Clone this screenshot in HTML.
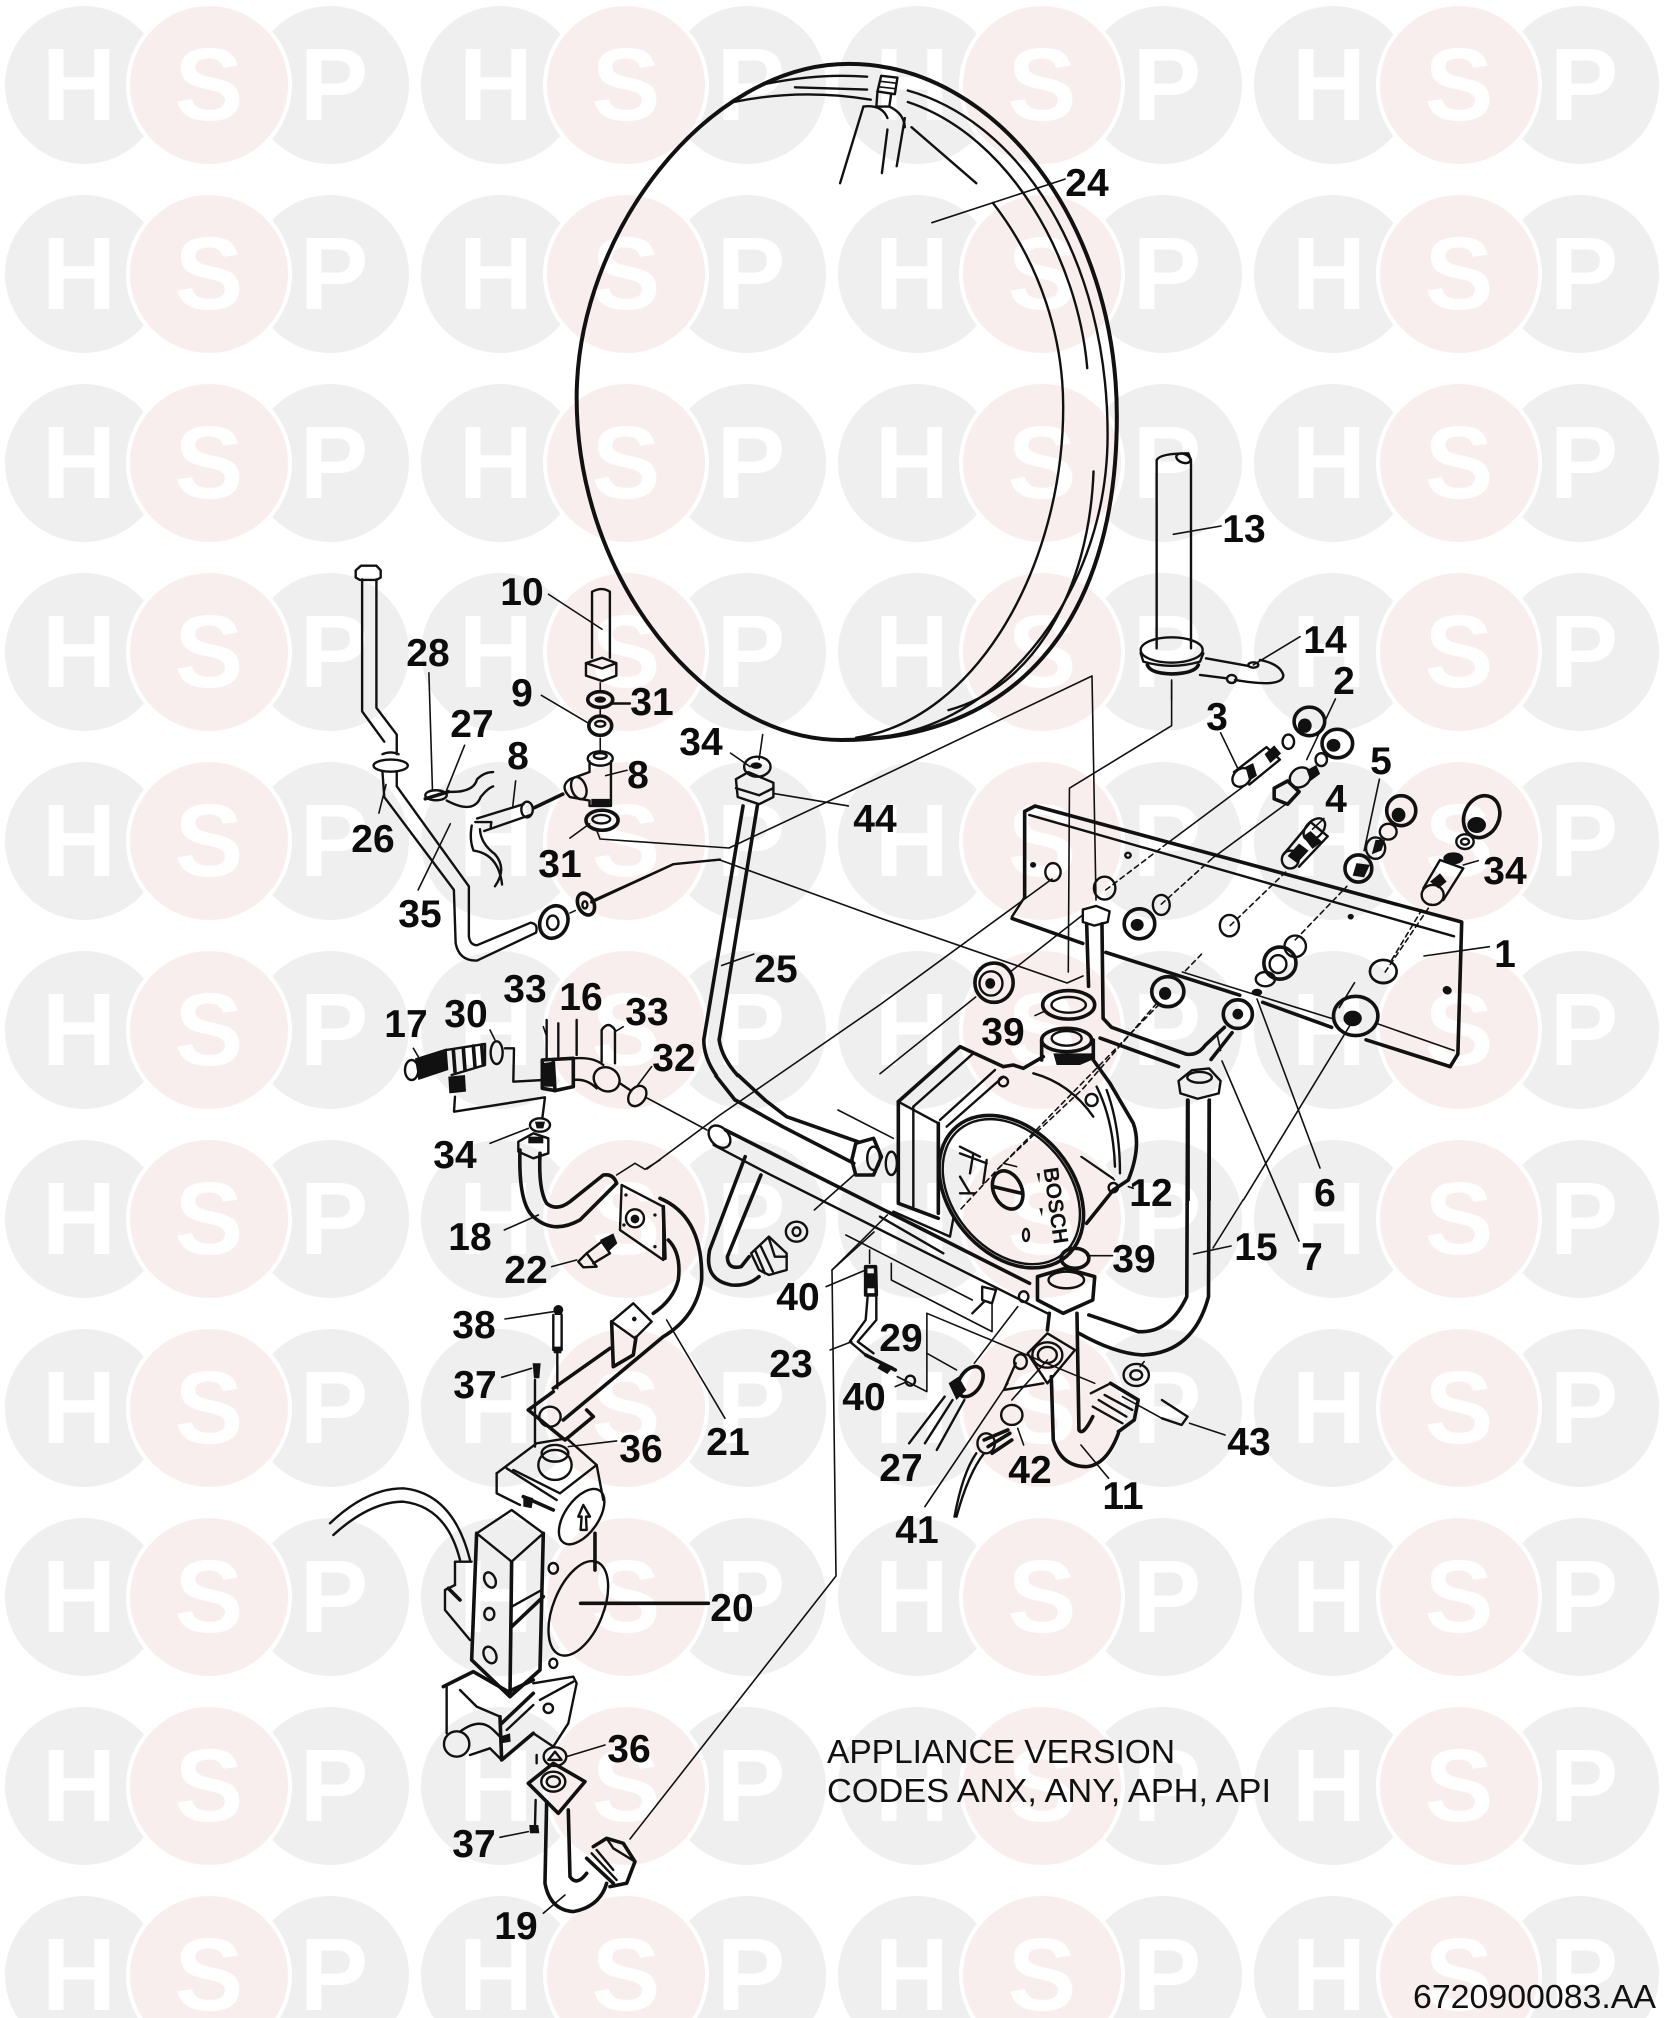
<!DOCTYPE html>
<html><head><meta charset="utf-8"><title>Parts diagram</title>
<style>
html,body{margin:0;padding:0;background:#fff}
svg{display:block}
.dw *{fill:none;stroke:#111;stroke-width:2.4;stroke-linecap:round;stroke-linejoin:round;vector-effect:non-scaling-stroke}
.dw .t{stroke-width:3.6}
.dw .n{stroke-width:1.6}
.dw .d{fill:#111;stroke:none}
.dw .a{stroke-dasharray:5 4;stroke-width:1.6}
.dw text{fill:#111;stroke:none}
.l text{font:bold 39px "Liberation Sans",sans-serif;fill:#0c0c0c;text-anchor:middle}
.w text{font:bold 103px "Liberation Sans",sans-serif;fill:#fff;text-anchor:middle}
.g{fill:#efefef}.p{fill:#f9eeee;stroke:#fff;stroke-width:4}
</style></head><body>
<svg xmlns="http://www.w3.org/2000/svg" width="1667" height="2018" viewBox="0 0 1667 2018">
<rect width="1667" height="2018" fill="#fff"/>
<defs>
<g id="r" class="w">
<circle class="g" cx="84" cy="85" r="79"/><circle class="g" cx="330" cy="85" r="79"/>
<circle class="g" cx="500" cy="85" r="79"/><circle class="g" cx="747" cy="85" r="79"/>
<circle class="g" cx="917" cy="85" r="79"/><circle class="g" cx="1163" cy="85" r="79"/>
<circle class="g" cx="1333" cy="85" r="79"/><circle class="g" cx="1580" cy="85" r="79"/>
<circle class="p" cx="209" cy="85" r="81"/><circle class="p" cx="626" cy="85" r="81"/>
<circle class="p" cx="1042" cy="85" r="81"/><circle class="p" cx="1459" cy="85" r="81"/>
<text x="79" y="120">H</text><text x="209" y="120">S</text><text x="334" y="120">P</text>
<text x="496" y="120">H</text><text x="626" y="120">S</text><text x="751" y="120">P</text>
<text x="912" y="120">H</text><text x="1042" y="120">S</text><text x="1167" y="120">P</text>
<text x="1329" y="120">H</text><text x="1459" y="120">S</text><text x="1584" y="120">P</text>
</g>
</defs>
<use href="#r"/><use href="#r" y="189"/><use href="#r" y="378"/><use href="#r" y="567"/>
<use href="#r" y="756"/><use href="#r" y="945"/><use href="#r" y="1134"/><use href="#r" y="1323"/>
<use href="#r" y="1512"/><use href="#r" y="1701"/><use href="#r" y="1890"/>

<g class="dw">
<!-- connectors in page coordinates -->
<path class="n" d="M597,831 L600,839 L729,848 L880,777 L1092,676 L1096,900"/>
<path class="n" d="M591,901 L673,864 L720,860 L880,918 L1067,983 L1083,976"/>
<path class="n" d="M630,1839 L836,1576 L832,1270 L874,1232"/>
<path class="n" d="M647,1169 L720,1115 L881,1004 L1052,879"/>
<path class="n" d="M647,1098 L707,1130"/>
<path class="n" d="M1222,1061 L1299,1241"/>
<path class="n" d="M1257,999 L1320,1168"/>
<path class="n" d="M1243,1200 L1213,1248"/>
<path class="t" d="M716,1076 L735,1100"/>
<path class="t" d="M738,1075 L765,1100"/>

<!-- vessel -->
<g transform="translate(560,40) scale(.37,.459)">
<path class="t" style="stroke-width:4" d="M780,52 C1180,52 1505,400 1505,820 C1505,1280 1220,1525 760,1525 C400,1525 45,1180 45,780 C45,420 400,52 780,52 Z"/>
<path d="M940,110 C1250,180 1480,480 1480,860 C1480,1230 1150,1520 820,1520"/>
<path d="M940,135 C1220,210 1400,480 1425,715"/>
<path d="M1442,940 C1430,1200 1280,1410 1050,1460"/>
<path d="M950,190 L1125,312"/>
<path d="M1170,355 C1300,490 1360,650 1360,800 C1360,1140 1130,1480 800,1520"/>
<path d="M560,95 Q700,72 830,80"/><path d="M635,103 L830,108"/><path d="M470,135 Q650,105 840,130"/>
<path d="M868,78 L912,82 L905,118 L858,112 Z"/><path class="n" d="M865,90 L908,94 M862,102 L906,106"/>
<path d="M858,112 L855,145 L890,145 L895,118"/>
<path d="M820,145 L757,312"/><path d="M885,195 L870,290"/><path d="M932,170 L910,275"/>
<path d="M820,145 Q870,140 885,170"/><path d="M890,145 Q930,160 932,190"/>
<path class="n" d="M1005,398 L1365,303"/>
</g>

<!-- 13 / 14 -->
<g transform="translate(1120,440) scale(.3333)">
<path d="M110,625 L110,60 Q120,40 205,40 L213,60 L213,625"/>
<ellipse cx="190" cy="55" rx="22" ry="13" transform="rotate(20 190 55)"/>
<ellipse cx="155" cy="630" rx="93" ry="38"/>
<path d="M62,640 L70,665 Q155,690 240,665 L250,640"/>
<path class="t" d="M82,675 Q90,700 155,702 Q225,700 235,675"/>
<path class="n" d="M160,283 L303,258"/><path class="n" d="M400,675 L540,590"/>
<path d="M258,655 L385,678"/><path d="M240,705 L320,715"/>
<ellipse cx="400" cy="675" rx="15" ry="8"/><ellipse cx="335" cy="717" rx="14" ry="12"/>
<path d="M345,720 Q490,745 490,705 Q480,672 420,660"/>
<path class="n" d="M155,725 L155,780"/>
</g>

<!-- left upper cluster -->
<g transform="translate(320,540) scale(.357)">
<path d="M100,85 L115,72 L158,72 L170,85 L170,105 L158,112 L112,112 L100,105 Z"/>
<path d="M118,110 L118,480 L180,565"/><path d="M158,110 L158,470 L215,545 L215,600"/>
<ellipse cx="198" cy="632" rx="48" ry="17"/><path d="M175,600 Q198,590 220,600"/>
<path d="M175,650 L180,720 L375,980 L380,1130 Q390,1180 440,1178 L605,1100 Q612,1075 590,1072 L440,1135 Q420,1135 417,1110 L417,970 L215,690 L215,650"/>
<ellipse class="t" cx="655" cy="1070" rx="38" ry="47" transform="rotate(25 655 1070)"/><ellipse cx="652" cy="1072" rx="16" ry="20"/>
<ellipse class="t" cx="745" cy="1020" rx="22" ry="32" transform="rotate(-25 745 1020)"/><ellipse cx="742" cy="1022" rx="7" ry="10"/>
<path class="n" d="M700,1045 L715,1038"/>
<path d="M760,1015 L990,908 L1120,895"/>
<path d="M355,705 Q430,710 440,670 Q460,650 485,650"/><path d="M355,730 Q430,770 450,720 Q470,695 485,690"/>
<path class="t" d="M295,725 L360,705"/><ellipse cx="325" cy="715" rx="30" ry="14"/>
<path d="M440,780 L570,740"/><path d="M460,815 L590,770"/><ellipse cx="580" cy="755" rx="16" ry="22"/>
<path class="t" d="M600,750 L680,712"/>
<path d="M435,790 L480,790 L478,805"/>
<path d="M425,800 Q418,840 430,870 Q500,880 510,965"/><path d="M448,810 Q450,850 490,880 Q525,920 490,970"/>
<!-- T -->
<path d="M755,620 L755,650 L700,670 Q670,690 700,720 L755,730 L755,745 L815,745 L815,620"/>
<ellipse cx="785" cy="612" rx="35" ry="20"/><ellipse cx="785" cy="605" rx="18" ry="8"/>
<path class="d" d="M760,725 L812,725 L812,748 L760,748 Z"/>
<ellipse cx="725" cy="695" rx="20" ry="32" transform="rotate(-20 725 695)"/>
<ellipse class="t" cx="785" cy="447" rx="35" ry="22"/><ellipse class="d" cx="785" cy="447" rx="16" ry="9"/>
<ellipse class="t" cx="785" cy="520" rx="32" ry="27"/><ellipse cx="785" cy="515" rx="14" ry="8"/>
<path d="M762,330 L762,145 Q790,130 812,145 L812,330"/>
<path d="M745,345 L790,330 L830,345 L830,380 L790,395 L745,380 Z"/><path d="M745,345 L790,360 L830,345"/>
<path class="n" d="M785,400 L785,425"/><path class="n" d="M785,475 L785,495"/><path class="n" d="M785,555 L785,590"/>
<ellipse class="t" cx="790" cy="785" rx="45" ry="28"/><ellipse cx="788" cy="782" rx="25" ry="12"/>
<!-- leaders -->
<path class="n" d="M640,152 L790,250"/><path class="n" d="M620,435 L755,515"/><path d="M815,458 L868,458"/>
<path class="n" d="M800,660 L860,645"/><path class="n" d="M548,675 L540,745"/><path class="n" d="M700,835 L755,795"/>
<path class="n" d="M275,980 L365,795"/><path class="n" d="M165,765 L185,685"/>
<path class="n" d="M1150,597 L1205,635"/><path class="n" d="M1270,710 L1480,745"/>
<path class="n" d="M305,372 L315,700"/><path class="n" d="M405,575 L355,700"/>
<path class="n" d="M1125,1192 L1215,1160"/>
<path class="n" d="M1240,545 L1230,615"/>
<!-- 25 top -->
<ellipse cx="1225" cy="635" rx="37" ry="28"/><ellipse class="d" cx="1222" cy="632" rx="16" ry="9"/>
<path d="M1165,670 L1200,650 L1270,680 L1270,720 L1230,740 L1170,720 Z"/><path d="M1165,695 L1230,715 L1270,695"/>
<path class="t" d="M1185,745 L1075,1400 Q1075,1450 1110,1500"/><path class="t" d="M1225,745 L1118,1400 Q1125,1450 1170,1500"/>
</g>

<!-- 17, 16 cluster -->
<g transform="translate(380,1020) scale(.3333)">
<ellipse cx="95" cy="150" rx="20" ry="30"/>
<path class="d" d="M105,115 L200,85 L205,150 L115,180 Z"/>
<path d="M200,90 L315,72 L315,135 L215,165"/><path class="t" d="M220,90 L225,155 M250,85 L255,150 M280,78 L285,140 M305,75 L310,135"/>
<path class="d" d="M205,170 L255,165 L258,215 L208,220 Z"/>
<path d="M225,230 L222,275 L495,232 L487,295"/>
<ellipse cx="350" cy="98" rx="18" ry="34"/>
<path d="M375,85 L402,85 L400,185 L490,180"/>
<path class="t" d="M487,120 L580,115 L580,200 L525,212 L487,205 Z"/>
<path class="t" d="M520,125 L525,212"/><path class="d" d="M487,130 L520,125 L522,200 L490,200 Z"/>
<path d="M580,115 Q640,110 670,135"/><path d="M580,180 Q620,175 650,205"/>
<ellipse cx="680" cy="178" rx="40" ry="35" transform="rotate(30 680 178)"/>
<path d="M500,0 L500,120"/><path d="M535,10 L535,110"/><path d="M590,0 L590,105"/>
<path d="M665,125 L665,30 Q685,0 705,30 L705,130"/>
<path d="M720,190 L750,210"/><ellipse cx="772" cy="228" rx="24" ry="33" transform="rotate(35 772 228)"/>
<path class="n" d="M770,200 L815,140"/><path class="n" d="M330,370 L445,325"/>
<path class="n" d="M100,85 L115,110"/><path class="n" d="M330,30 L345,60"/><path class="n" d="M490,20 L500,50"/><path class="n" d="M730,20 L705,35"/>
<ellipse cx="480" cy="315" rx="30" ry="20"/><path class="d" d="M465,305 L495,305 L490,325 L470,325 Z"/>
<path d="M415,365 L460,340 L505,355 L505,400 L460,415 L415,395 Z"/><path class="d" d="M445,350 L490,350 L490,370 L445,370 Z"/>
</g>

<!-- 18, 21, gas valve top -->
<g transform="translate(320,1140) scale(.3333)">
<path class="t" d="M600,30 Q595,190 640,230 Q700,285 780,240 L890,130"/>
<path class="t" d="M660,40 Q655,150 680,190 Q710,215 750,185 L850,105 Q880,100 890,130"/>
<path class="n" d="M890,105 L945,70 L975,88 L1020,60"/>
<path class="n" d="M553,270 L655,225"/>
<path d="M905,135 L1030,200 L1030,360 L900,270 Z"/>
<ellipse cx="945" cy="235" rx="27" ry="27"/><circle class="d" cx="945" cy="237" r="13"/>
<circle class="d" cx="918" cy="165" r="5"/><circle class="d" cx="1005" cy="225" r="5"/><circle class="d" cx="912" cy="255" r="5"/><circle class="d" cx="1005" cy="320" r="5"/>
<path class="t" d="M1030,200 L1035,355"/>
<path class="t" d="M1020,175 Q1150,230 1145,420 Q1130,530 1030,590 L730,840"/>
<path class="t" d="M1045,300 Q1085,340 1075,420 Q1060,480 1000,520"/>
<path class="t" d="M870,625 L700,745"/>
<path d="M940,490 L995,545 L945,595 L875,545 Z"/><circle class="d" cx="943" cy="537" r="7"/>
<path class="t" d="M875,545 L880,680 L940,645 L948,592"/>
<path class="t" d="M625,810 L700,755"/><path class="t" d="M625,810 L735,900 L820,830 L800,810"/>
<ellipse cx="690" cy="830" rx="32" ry="30"/>
<path class="d" d="M700,510 A14,14 0 1 1 730,510 L725,525 L705,525 Z"/>
<path d="M700,525 L700,630"/><path d="M725,525 L725,630"/><path class="d" d="M698,620 L726,620 L724,640 L702,640 Z"/>
<path d="M712,640 L712,745"/>
<path class="n" d="M555,537 L700,515"/>
<path class="d" d="M638,670 L662,670 L658,715 L642,715 Z"/>
<path d="M645,720 L645,920"/>
<path class="n" d="M545,712 L635,685"/>
<!-- 22 -->
<path d="M775,365 L800,340 L830,380 L790,382 Z"/>
<path d="M800,340 L845,305 L870,340 L820,370"/>
<path class="d" d="M840,300 L880,280 L892,310 L865,335 Z"/>
<path class="n" d="M695,380 L770,360"/>
<path class="n" d="M1040,540 L1215,835"/>
<path class="n" d="M745,920 L890,903"/>
<!-- gas valve head -->
<path d="M530,1000 L650,910 L740,895 L830,975 L850,1080"/>
<ellipse cx="705" cy="975" rx="50" ry="45"/><ellipse cx="705" cy="940" rx="40" ry="25"/>
<path d="M530,1000 L530,1060 L600,1095"/>
<path d="M580,990 L720,1060 L830,975"/><path d="M560,985 L710,1080"/>
<path class="t" d="M610,1070 L700,1110"/>
<path class="d" d="M610,1065 L640,1075 L635,1105 L610,1100 Z"/>
<ellipse cx="785" cy="1130" rx="50" ry="95" transform="rotate(35 785 1130)"/>
<path d="M790,1095 L775,1130 L785,1130 L782,1170 L800,1170 L798,1130 L810,1130 Z"/>
<path class="t" d="M825,1180 L825,1290"/>
<path d="M30,1150 Q140,1045 250,1045 Q400,1060 450,1260"/>
<path d="M40,1185 Q150,1085 250,1085 Q380,1100 420,1260"/>
</g>

<!-- gas valve body + 19 -->
<g transform="translate(320,1500) scale(.3333)">
<path d="M470,100 L575,30 L670,100 L575,185 Z"/>
<path class="t" d="M470,100 L455,480 L570,590 L660,510 L670,100"/>
<path class="t" d="M575,185 L570,590"/>
<ellipse cx="510" cy="240" rx="16" ry="24" transform="rotate(-25 510 240)"/>
<ellipse cx="508" cy="342" rx="15" ry="18"/>
<ellipse cx="510" cy="465" rx="18" ry="26" transform="rotate(-25 510 465)"/>
<path d="M575,320 L665,270"/><path class="t" d="M575,380 L670,290"/>
<path d="M405,255 L405,185 L455,185"/><path d="M405,255 L375,270 L375,330 L450,420"/><path class="t" d="M385,265 L420,300"/>
<ellipse cx="775" cy="325" rx="75" ry="150" transform="rotate(22 775 325)"/>
<path class="t" d="M782,310 L1165,310"/>
<ellipse cx="700" cy="205" rx="14" ry="16"/>
<ellipse cx="700" cy="490" rx="12" ry="14"/>
<path class="t" d="M370,560 L460,515 L565,575 L640,540"/>
<path d="M380,560 L380,700"/><path d="M420,570 L470,620 L540,650"/>
<circle cx="410" cy="732" r="38"/><path d="M420,695 Q480,650 520,690 L540,710"/>
<path class="t" d="M540,650 L545,780 L640,700"/>
<path class="t" d="M545,670 L640,580"/><path d="M560,690 L640,615"/>
<path class="d" d="M540,710 L570,700 L572,725 L545,730 Z"/>
<path d="M510,745 L545,780 M450,765 L510,745"/>
<path d="M640,550 L760,530 L770,550 L745,670 L700,740 L640,700"/>
<circle cx="685" cy="625" r="14"/><path d="M660,600 L760,545"/>
<ellipse cx="705" cy="770" rx="34" ry="28"/><path d="M685,780 L705,755 L725,780 Z"/>
<path class="n" d="M740,770 L855,735"/>
<path class="t" d="M625,850 L700,790 L795,845 L715,940 Z"/>
<ellipse cx="700" cy="845" rx="36" ry="30"/><ellipse cx="700" cy="845" rx="20" ry="16"/>
<path d="M650,765 L650,790"/>
<path d="M647,900 L645,980"/>
<path class="d" d="M628,975 L655,975 L658,1000 L630,1000 Z"/>
<path class="n" d="M540,1012 L625,995"/>
<path class="t" d="M680,905 L675,1150 Q690,1230 760,1235 Q840,1220 860,1150"/>
<path class="t" d="M745,930 L750,1130 Q770,1160 800,1120"/>
<path class="t" d="M820,1040 L860,1015 L910,1030 L945,1085 L920,1150 L870,1160"/>
<path d="M860,1015 L880,1045 L945,1085"/>
<path class="t" d="M800,1075 L880,1150"/><path d="M815,1060 L890,1140 M830,1050 L880,1110"/>
<path class="n" d="M670,1240 L735,1185"/>
</g>

<!-- bracket & fittings -->
<g transform="translate(880,640) scale(.3827,.357)">
<path class="t" d="M378,720 L378,480 L405,465 L1520,790 L1510,1160 L1490,1195"/>
<path d="M390,490 L1500,830"/>
<path d="M378,720 L345,775"/>
<path class="t" d="M345,780 L530,850"/><path class="t" d="M590,875 L940,995"/><path class="t" d="M1000,1015 L1180,1085"/><path class="t" d="M1270,1120 L1490,1195"/>
<path class="n" d="M790,930 L1180,1060"/><path class="n" d="M1300,1075 L1500,1150"/>
<ellipse cx="452" cy="650" rx="20" ry="25"/><ellipse cx="587" cy="695" rx="28" ry="32"/><ellipse cx="735" cy="742" rx="22" ry="28"/>
<ellipse cx="913" cy="800" rx="25" ry="30"/><ellipse cx="1085" cy="858" rx="28" ry="30"/><ellipse cx="1315" cy="928" rx="35" ry="32"/>
<circle class="d" cx="400" cy="630" r="8"/><circle cx="648" cy="603" r="7"/><circle class="d" cx="1230" cy="775" r="8"/><circle class="d" cx="1483" cy="982" r="11"/>
<!-- nuts -->
<ellipse class="t" cx="298" cy="960" rx="50" ry="55"/><ellipse cx="290" cy="962" rx="30" ry="34"/><ellipse class="d" cx="288" cy="962" rx="13" ry="15"/>
<ellipse class="t" cx="678" cy="795" rx="40" ry="42"/><ellipse class="d" cx="672" cy="798" rx="17" ry="17"/>
<ellipse class="t" cx="752" cy="985" rx="42" ry="42"/><ellipse class="d" cx="745" cy="990" rx="16" ry="18"/>
<ellipse class="t" cx="1045" cy="905" rx="42" ry="45"/><ellipse cx="1040" cy="908" rx="22" ry="25"/>
<ellipse class="t" cx="935" cy="1048" rx="38" ry="40"/><ellipse class="d" cx="935" cy="1048" rx="14" ry="15"/>
<ellipse class="t" cx="1243" cy="1053" rx="58" ry="55"/><ellipse class="d" cx="1235" cy="1060" rx="24" ry="22"/>
<ellipse cx="1007" cy="950" rx="25" ry="20"/><ellipse class="d" cx="985" cy="987" rx="14" ry="10"/>
<!-- pipe vertical -->
<path d="M530,755 L565,745 L600,760 L595,790 L560,800 L530,790 Z"/>
<path class="t" d="M540,795 L545,970"/>
<path class="t" d="M580,795 L583,1060 L605,1085 L800,1160 Q830,1165 850,1135 L900,1085"/>
<path class="t" d="M575,1115 L780,1195"/><path class="t" d="M865,1175 L920,1100"/>
<path d="M780,1235 L815,1205 L860,1200 L890,1235 L885,1270 L830,1285 L785,1270 Z"/>
<ellipse cx="835" cy="1225" rx="32" ry="15"/>
<path class="t" d="M805,1290 L805,1568"/><path class="t" d="M860,1290 L860,1568"/>
<!-- ring 39 -->
<ellipse class="t" cx="493" cy="1022" rx="68" ry="40"/><ellipse cx="493" cy="1022" rx="45" ry="22"/>
<path class="n" d="M405,1052 L430,1040"/>
<!-- connectors -->
<path class="n" d="M762,112 L762,240 L495,415 L492,930"/>
<path class="n" d="M0,1215 L250,1000"/>
<path class="n" d="M340,930 L530,770"/>
<path class="a" d="M590,700 L750,570"/><path class="n" d="M750,570 L950,410"/>
<path class="a" d="M735,740 L870,610"/><path class="n" d="M870,610 L1060,460"/>
<path class="a" d="M915,800 L1060,650"/>
<path class="a" d="M1085,840 L1220,690"/>
<path class="a" d="M1320,930 L1440,740"/>
<path class="n" d="M1243,1053 L950,1568"/>
<path class="a" d="M730,1020 L310,1480"/>
<path class="a" d="M840,880 L795,930"/>
<path class="n" d="M880,1100 L890,1150"/>
<path class="n" d="M1240,960 L1200,1030"/>
<!-- fittings -->
<ellipse cx="945" cy="385" rx="22" ry="28" transform="rotate(35 945 385)"/>
<path d="M925,370 L1010,300 L1045,335 L965,405"/><path class="d" d="M1005,320 L1030,295 L1048,318 L1020,345 Z"/>
<path class="d" d="M955,355 L975,345 L985,380 L965,395 Z"/>
<ellipse class="t" cx="1122" cy="228" rx="40" ry="40"/><ellipse class="d" cx="1110" cy="240" rx="18" ry="20"/>
<ellipse cx="1067" cy="285" rx="15" ry="20"/>
<ellipse class="t" cx="1195" cy="290" rx="40" ry="40"/><ellipse class="d" cx="1185" cy="295" rx="18" ry="18"/>
<ellipse cx="1153" cy="335" rx="15" ry="18"/>
<path class="t" d="M1030,415 L1065,395 L1095,425 L1065,460 L1030,445 Z"/>
<ellipse cx="1098" cy="385" rx="25" ry="30" transform="rotate(40 1098 385)"/>
<path class="d" d="M1115,365 L1140,350 L1150,375 L1125,395 Z"/>
<ellipse cx="1072" cy="615" rx="22" ry="25"/>
<path d="M1055,600 L1125,510 L1170,550 L1095,635"/><path class="d" d="M1065,605 L1095,570 L1120,590 L1090,625 Z"/>
<ellipse cx="1135" cy="530" rx="35" ry="22" transform="rotate(-50 1135 530)"/>
<path class="d" d="M1105,550 L1125,535 L1155,565 L1130,585 Z"/>
<ellipse class="t" cx="1362" cy="478" rx="38" ry="42"/><ellipse class="d" cx="1355" cy="490" rx="18" ry="20"/>
<ellipse cx="1328" cy="537" rx="22" ry="22"/>
<ellipse cx="1295" cy="583" rx="25" ry="30"/><path class="d" d="M1295,560 L1320,560 L1310,590 L1285,600 Z"/>
<ellipse class="t" cx="1250" cy="640" rx="35" ry="38"/><path class="d" d="M1245,625 L1280,630 L1265,665 L1235,660 Z"/>
<path class="n" d="M890,260 L935,360"/>
<path class="n" d="M1115,335 L1190,165"/>
<path class="n" d="M1160,500 L1130,530"/>
<path class="n" d="M1305,390 L1265,590"/>
</g>

<g transform="translate(1340,760) scale(.3333)">
<ellipse class="t" cx="425" cy="170" rx="52" ry="65" transform="rotate(25 425 170)"/><ellipse class="d" cx="410" cy="195" rx="28" ry="24"/>
<ellipse cx="375" cy="245" rx="26" ry="22"/><ellipse cx="375" cy="245" rx="12" ry="9"/>
<ellipse cx="278" cy="405" rx="33" ry="30"/>
<path d="M250,385 L300,300 L370,325 L310,420"/><ellipse class="d" cx="340" cy="295" rx="30" ry="18"/>
<path class="d" d="M270,365 L300,340 L320,365 L295,385 Z"/>
<path class="n" d="M370,315 L415,302"/>
<path class="n" d="M252,588 L448,560"/>
<circle class="d" cx="320" cy="690" r="12"/>
<ellipse cx="130" cy="635" rx="40" ry="35"/>
<path class="a" d="M155,600 L245,450"/>
</g>

<!-- pump -->
<g transform="translate(880,960) scale(.3333)">
<path class="t" d="M55,425 L240,260 L370,320"/>
<path class="t" d="M55,425 L55,730 L175,775"/>
<path d="M55,425 L175,490"/><path d="M100,440 L100,740"/><path class="t" d="M175,490 L175,760"/>
<path d="M100,440 L280,280"/><path d="M180,480 L345,330"/><path d="M200,500 L370,350"/>
<path d="M40,755 L210,830 L220,775"/><path d="M0,770 L190,880"/>
<ellipse class="t" cx="394" cy="695" rx="255" ry="185" transform="rotate(50 394 695)"/>
<ellipse cx="394" cy="695" rx="243" ry="175" transform="rotate(50 394 695)"/>
<path class="t" d="M370,320 L400,315 L430,325 L490,290"/>
<path class="t" d="M485,300 L485,240"/><path class="t" d="M640,300 L640,240"/>
<ellipse class="t" cx="560" cy="240" rx="75" ry="35"/><ellipse cx="560" cy="235" rx="45" ry="22"/>
<path class="d" d="M520,280 L635,280 L635,300 L600,315 L530,315 Z"/>
<path class="t" d="M640,300 L690,370 L760,490 Q785,560 745,660 L700,690 L620,790"/>
<path d="M460,340 Q570,370 640,470"/><path d="M680,390 Q720,500 720,640"/><path d="M650,380 Q700,480 705,620"/>
<circle cx="370" cy="365" r="14"/><circle cx="635" cy="420" r="18"/><circle cx="700" cy="683" r="14"/>
<path class="n" d="M605,590 L700,655"/>
<path class="n" d="M410,620 L370,610"/>
<ellipse class="t" cx="383" cy="690" rx="42" ry="60" transform="rotate(-25 383 690)"/>
<path class="t" d="M340,680 L425,700"/>
<path d="M240,560 L300,590 M240,580 L320,610 M280,580 L270,640 M320,600 L310,670 M240,650 L270,700 M240,700 L285,700"/>
<path class="a" d="M830,130 L610,385 L360,620 L240,750"/>
<ellipse cx="438" cy="825" rx="9" ry="18"/>
<path class="d" d="M470,640 L480,640 L478,670 Z"/><path class="d" d="M478,745 L488,745 L486,770 Z"/>
<text x="0" y="0" font-family="Liberation Sans,sans-serif" font-weight="700" font-size="64" transform="translate(490,625) rotate(82)">BOSCH</text>
<path class="n" d="M745,680 L760,685"/>
</g>

<!-- lower centre -->
<g transform="translate(680,1100) scale(.395,.3333)">
<ellipse cx="100" cy="110" rx="24" ry="36" transform="rotate(-30 100 110)"/>
<path class="t" d="M115,90 L885,550"/>
<path d="M85,135 L230,225 L930,640"/>
<path class="t" d="M165,170 L75,450 Q60,540 130,555 Q170,560 200,530"/>
<path class="t" d="M205,225 L120,470 Q120,510 155,500 L175,470"/>
<path d="M180,460 L225,410 L270,460 L270,510 L225,525 L200,510 Z"/><path d="M190,450 L215,520 M205,440 L235,515 M225,415 L240,470 L270,470"/>
<ellipse cx="295" cy="395" rx="27" ry="30"/><ellipse cx="295" cy="395" rx="10" ry="13"/>
<path class="n" d="M440,225 L340,330"/>
<path class="t" d="M140,0 L260,80 L440,190"/><path class="t" d="M215,0 L270,50 L450,125"/>
<path class="t" d="M445,130 L490,115 L510,170 L490,225 L445,225 L435,180 Z"/><ellipse cx="490" cy="175" rx="16" ry="35"/>
<ellipse cx="535" cy="190" rx="14" ry="35"/>
<path class="n" d="M400,30 L540,115"/>
<!-- pipe 15 -->
<path class="t" d="M1285,0 L1283,590 Q1240,700 1160,695 L1035,645"/>
<path class="t" d="M1340,0 L1338,590 Q1300,760 1170,765 Q1100,760 1010,700"/>
<path class="n" d="M1300,462 L1395,438"/>
<!-- fitting -->
<ellipse class="t" cx="1000" cy="475" rx="35" ry="30"/>
<path class="n" d="M1030,467 L1095,467"/>
<path class="t" d="M905,530 L975,505 L1050,530 L1045,600 L970,640 L905,600 Z"/>
<ellipse cx="978" cy="540" rx="45" ry="25"/>
<path class="t" d="M935,640 L930,690"/><path class="t" d="M1005,640 L1010,990 Q1020,1010 1045,950"/>
<path d="M880,760 L930,700 L1000,750 L930,850 Z"/><circle cx="930" cy="765" r="38"/><circle cx="930" cy="765" r="24"/>
<path class="t" d="M940,830 L945,1020 Q965,1100 1030,1100 Q1080,1095 1110,1000"/>
<path class="t" d="M1090,850 L1160,900 L1150,960 L1110,995"/><path d="M1040,880 L1090,850"/>
<path d="M1045,920 L1120,970 M1060,900 L1130,950 M1075,885 L1145,930"/>
<ellipse cx="1155" cy="825" rx="32" ry="33"/><ellipse cx="1155" cy="825" rx="15" ry="14"/>
<path class="n" d="M1175,785 L1165,800"/>
<path d="M1220,900 L1285,950 L1270,975 L1220,955"/>
<path class="n" d="M1290,970 L1380,1005"/>
<path class="n" d="M1015,1035 L1085,1135"/>
<!-- thin plate outlines -->
<path class="n" d="M420,405 L740,600"/>
<path class="n" d="M535,490 L535,540 L790,695 L790,610"/>
<path class="n" d="M625,640 L1050,850"/>
<path class="n" d="M1120,890 L1220,955"/>
<path class="n" d="M625,640 L625,875 L550,830"/>
<path class="n" d="M480,450 L480,490"/>
<path class="n" d="M385,510 L525,345"/>
<path d="M765,560 L800,570 L790,610 L765,600 Z"/><path d="M770,605 L740,640"/>
<ellipse cx="870" cy="590" rx="12" ry="16"/>
<path class="n" d="M855,620 L745,790"/>
<path class="n" d="M620,1220 L830,850"/><path d="M850,790 L820,870 L920,850"/><ellipse cx="862" cy="785" rx="16" ry="22"/>
<ellipse cx="840" cy="945" rx="27" ry="30"/><path class="n" d="M855,985 L870,1035"/><path class="n" d="M840,900 L930,780"/>
<ellipse cx="775" cy="1030" rx="22" ry="30"/><path class="t" d="M770,1020 L830,990 M780,1040 L835,1000 M790,1060 L840,1020"/>
<path d="M770,1060 Q730,1120 700,1250"/><path d="M750,1060 Q715,1120 695,1250"/>
<!-- 29 -->
<ellipse class="t" cx="735" cy="845" rx="28" ry="48" transform="rotate(25 735 845)"/>
<path class="d" d="M680,850 L705,830 L725,870 L700,900 Z"/>
<path d="M670,890 L580,1030"/><path d="M690,900 L620,1030"/><path d="M720,900 L650,1050"/>
<path class="n" d="M625,760 L700,810"/>
<!-- 23 -->
<path class="t" d="M470,500 L495,500 L497,585 L470,585 Z"/>
<path class="d" d="M470,520 L495,520 L495,565 L470,565 Z"/>
<path d="M475,590 L470,660 L430,725 L470,765"/><path d="M497,590 L497,660 L450,725 L490,760"/>
<path class="t" d="M470,765 L545,810"/><path class="d" d="M510,785 L540,800 L525,822 L500,805 Z"/>
<ellipse cx="583" cy="842" rx="12" ry="15"/>
<path class="n" d="M380,750 L435,725"/><path class="n" d="M370,560 L470,510"/><path class="n" d="M545,860 L575,845"/>
<path class="n" d="M1015,170 L1100,240"/>
</g>

</g>

<g class="l">
<text x="1087" y="196">24</text><text x="1244" y="542">13</text><text x="1325" y="653">14</text>
<text x="522" y="605">10</text><text x="428" y="666">28</text><text x="472" y="737">27</text>
<text x="518" y="769">8</text><text x="522" y="706">9</text><text x="652" y="715">31</text>
<text x="638" y="788">8</text><text x="560" y="877">31</text><text x="701" y="755">34</text>
<text x="875" y="832">44</text><text x="373" y="852">26</text><text x="420" y="927">35</text>
<text x="776" y="982">25</text><text x="525" y="1002">33</text><text x="581" y="1010">16</text>
<text x="647" y="1025">33</text><text x="466" y="1027">30</text><text x="406" y="1037">17</text>
<text x="674" y="1071">32</text>
<text x="1344" y="694">2</text><text x="1217" y="730">3</text><text x="1381" y="774">5</text>
<text x="1336" y="812">4</text><text x="1505" y="884">34</text><text x="1505" y="967">1</text>
<text x="1003" y="1045">39</text><text x="1151" y="1206">12</text><text x="1325" y="1206">6</text>
<text x="1312" y="1270">7</text><text x="1256" y="1260">15</text><text x="1134" y="1272">39</text>
<text x="901" y="1351">29</text><text x="798" y="1310">40</text><text x="791" y="1377">23</text>
<text x="864" y="1410">40</text><text x="901" y="1481">27</text><text x="917" y="1543">41</text>
<text x="1030" y="1483">42</text><text x="1123" y="1509">11</text><text x="1249" y="1455">43</text>
<text x="728" y="1455">21</text>
<text x="470" y="1250">18</text><text x="526" y="1283">22</text><text x="474" y="1338">38</text>
<text x="475" y="1398">37</text><text x="641" y="1462">36</text><text x="455" y="1168">34</text>
<text x="732" y="1621">20</text><text x="629" y="1762">36</text><text x="474" y="1857">37</text>
<text x="516" y="1939">19</text>
</g>
<g font-family="Liberation Sans, sans-serif" font-size="33.4" fill="#111">
<text x="827" y="1763" textLength="348" lengthAdjust="spacingAndGlyphs">APPLIANCE VERSION</text>
<text x="827" y="1802" textLength="444" lengthAdjust="spacingAndGlyphs">CODES ANX, ANY, APH, API</text>
<text x="1413" y="2008" textLength="243" lengthAdjust="spacingAndGlyphs">6720900083.AA</text>
</g>
</svg>
</body></html>
